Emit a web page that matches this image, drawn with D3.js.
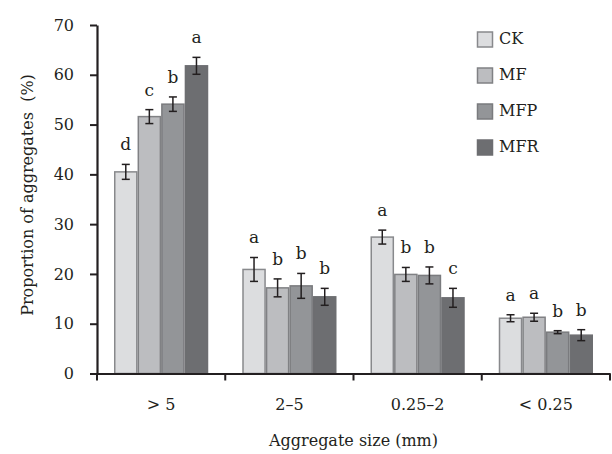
<!DOCTYPE html>
<html><head><meta charset="utf-8">
<script src="https://cdn.jsdelivr.net/npm/d3@7"></script>
<style>body{margin:0;background:#fff}text{font-family:"DejaVu Serif","Liberation Serif",serif;fill:#231f20}</style>
</head><body><svg id="c" width="612" height="454"></svg>
<script>
const categories = ["> 5", "2–5", "0.25–2", "< 0.25"];
const seriesNames = ["CK", "MF", "MFP", "MFR"];
const CK  = [40.5, 20.9, 27.4, 11.1];
const MF  = [51.6, 17.2, 19.9, 11.3];
const MFP = [54.1, 17.6, 19.7, 8.3];
const MFR = [61.8, 15.4, 15.2, 7.7];
const errCK  = [1.5, 2.4, 1.4, 0.7];
const errMF  = [1.4, 1.8, 1.4, 0.8];
const errMFP = [1.45, 2.5, 1.7, 0.3];
const errMFR = [1.7, 1.7, 1.9, 1.1];
const lettersCK  = ["d", "a", "a", "a"];
const lettersMF  = ["c", "b", "b", "a"];
const lettersMFP = ["b", "b", "b", "b"];
const lettersMFR = ["a", "b", "c", "b"];
const yTicks = [0, 10, 20, 30, 40, 50, 60, 70];

const values = [CK, MF, MFP, MFR];
const errs = [errCK, errMF, errMFP, errMFR];
const letters = [lettersCK, lettersMF, lettersMFP, lettersMFR];
const fills = ["#dcdddf", "#bcbdc0", "#939598", "#6d6e71"];
const strokes = ["#88898c", "#808184", "#7a7b7e", "#6d6e71"];

const svg = d3.select("#c");
const L = 97, R = 610, T = 25, B = 373.5;
const x = d3.scaleBand().domain(categories).range([L, R]).paddingInner(0).paddingOuter(0);
const inner = d3.scaleBand().domain(seriesNames).range([17, x.bandwidth() - 17]).padding(0);
const y = d3.scaleLinear().domain([0, 70]).range([B, T]);

const data = [];
categories.forEach((c, i) => seriesNames.forEach((s, j) => data.push({c, s, j, v: values[j][i], e: errs[j][i], l: letters[j][i]})));

// bars
svg.append("g").selectAll("rect").data(data).join("rect")
  .attr("x", d => x(d.c) + inner(d.s) + 0.75)
  .attr("y", d => y(d.v))
  .attr("width", inner.bandwidth() - 1.5)
  .attr("height", d => y(0) - y(d.v))
  .attr("fill", d => fills[d.j])
  .attr("stroke", d => strokes[d.j])
  .attr("stroke-width", 1.5);

// error bars
const eg = svg.append("g").attr("stroke", "#231f20").attr("stroke-width", 1.5);
data.forEach(d => {
  const cx = x(d.c) + inner(d.s) + inner.bandwidth() / 2;
  eg.append("line").attr("x1", cx).attr("x2", cx).attr("y1", y(d.v + d.e)).attr("y2", y(d.v - d.e));
  eg.append("line").attr("x1", cx - 4).attr("x2", cx + 4).attr("y1", y(d.v + d.e)).attr("y2", y(d.v + d.e));
  eg.append("line").attr("x1", cx - 4).attr("x2", cx + 4).attr("y1", y(d.v - d.e)).attr("y2", y(d.v - d.e));
});

// letters
svg.append("g").selectAll("text").data(data).join("text")
  .attr("x", d => x(d.c) + inner(d.s) + inner.bandwidth() / 2)
  .attr("y", d => y(d.v + d.e) - 14)
  .attr("text-anchor", "middle")
  .attr("font-size", 17)
  .text(d => d.l);

// y axis
const ya = svg.append("g").attr("transform", `translate(${L},0)`)
  .call(d3.axisLeft(y).tickValues(yTicks).tickSize(7).tickPadding(16).tickSizeOuter(0));
ya.select(".domain").attr("stroke", "#231f20").attr("stroke-width", 2.2);
ya.selectAll(".tick line").attr("stroke", "#231f20").attr("stroke-width", 2);
ya.selectAll(".tick text").attr("font-size", 16).attr("fill", "#231f20");

// x axis
const xa = svg.append("g").attr("transform", `translate(0,${B})`)
  .call(d3.axisBottom(x).tickSize(0).tickPadding(25).tickSizeOuter(0));
xa.select(".domain").attr("stroke", "#231f20").attr("stroke-width", 2.2);
xa.selectAll(".tick text").attr("font-size", 16).attr("fill", "#231f20");
// band boundary ticks
const bounds = categories.map(c => x(c)).concat([x.range()[1]]);
svg.append("g").selectAll("line").data(bounds).join("line")
  .attr("x1", d => d).attr("x2", d => d).attr("y1", B).attr("y2", B + 7)
  .attr("stroke", "#231f20").attr("stroke-width", 2);

// axis titles
svg.append("text").attr("x", (L + R) / 2).attr("y", 446).attr("text-anchor", "middle")
  .attr("font-size", 16).text("Aggregate size (mm)");
svg.append("text").attr("transform", `translate(33,195) rotate(-90)`).attr("text-anchor", "middle")
  .attr("font-size", 16).attr("xml:space", "preserve").text("Proportion of aggregates  (%)");

// legend
const lg = svg.append("g");
seriesNames.forEach((s, j) => {
  const ly = 32 + j * 36;
  lg.append("rect").attr("x", 477.5).attr("y", ly).attr("width", 15).attr("height", 15)
    .attr("fill", fills[j]).attr("stroke", strokes[j]).attr("stroke-width", 1.5);
  lg.append("text").attr("x", 499).attr("y", ly + 12).attr("font-size", 16).text(s);
});
</script></body></html>
